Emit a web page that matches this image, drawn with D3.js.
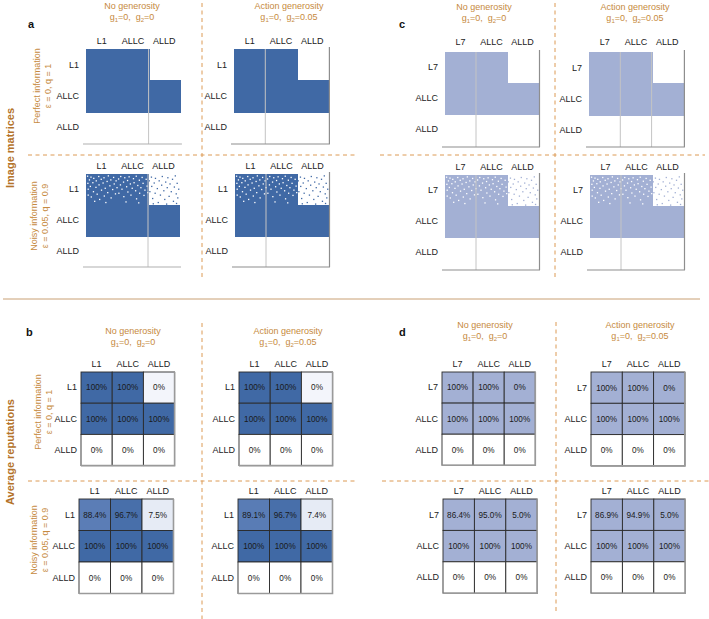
<!DOCTYPE html>
<html><head><meta charset="utf-8">
<script src="https://cdn.jsdelivr.net/npm/d3@7"></script>
<style>body{margin:0;background:#fff} svg{display:block} text{font-family:"Liberation Sans",Arial,sans-serif}</style>
</head><body><svg id="chart" width="709" height="619"></svg>
<script>
// ---------- data ----------
const strategiesL1 = ["L1", "ALLC", "ALLD"];
const strategiesL7 = ["L7", "ALLC", "ALLD"];
const imageBlocks = [[1, 1, 0], [1, 1, 1], [0, 0, 0]];
const repPerfect = [[1, 1, 0], [1, 1, 1], [0, 0, 0]];
const repNoisyL1None = [[0.884, 0.967, 0.075], [1, 1, 1], [0, 0, 0]];
const repNoisyL1Action = [[0.891, 0.967, 0.074], [1, 1, 1], [0, 0, 0]];
const repNoisyL7None = [[0.864, 0.950, 0.050], [1, 1, 1], [0, 0, 0]];
const repNoisyL7Action = [[0.869, 0.949, 0.050], [1, 1, 1], [0, 0, 0]];
const conditionTitles = ["No generosity", "Action generosity"];
const conditionG2 = ["0", "0.05"];
const infoTitles = ["Perfect information", "Noisy information"];
const infoParams = ["\u03b5 = 0, q = 1", "\u03b5 = 0.05, q = 0.9"];
const sectionTitles = ["Image matrices", "Average reputations"];
// speckles in the noisy image matrices (x in column units 0..3, y in row fraction 0..1)
const whiteSpecks = [[0.03,0.05],[0.04,0.28],[0.05,0.47],[0.05,0.66],[0.09,0.17],[0.12,0.38],[0.14,0.08],[0.15,0.72],[0.2,0.26],[0.22,0.55],[0.23,0.12],[0.3,0.41],[0.31,0.2],[0.34,0.63],[0.39,0.06],[0.4,0.33],[0.42,0.8],[0.47,0.15],[0.48,0.5],[0.53,0.27],[0.56,0.1],[0.57,0.69],[0.6,0.44],[0.66,0.22],[0.68,0.58],[0.7,0.04],[0.75,0.36],[0.78,0.17],[0.79,0.75],[0.84,0.48],[0.87,0.09],[0.89,0.3],[0.93,0.62],[0.95,0.2],[0.98,0.42],[1.03,0.14],[1.04,0.6],[1.09,0.33],[1.1,0.06],[1.14,0.47],[1.19,0.24],[1.2,0.71],[1.23,0.1],[1.29,0.39],[1.32,0.19],[1.33,0.56],[1.37,0.07],[1.41,0.3],[1.43,0.66],[1.47,0.44],[1.51,0.13],[1.53,0.26],[1.58,0.52],[1.6,0.05],[1.61,0.78],[1.65,0.35],[1.7,0.18],[1.71,0.6],[1.75,0.42],[1.79,0.09],[1.82,0.28],[1.85,0.67],[1.88,0.5],[1.92,0.15],[1.95,0.37],[1.97,0.58],[0.26,0.86],[0.62,0.9],[1.27,0.88],[1.68,0.91]];
const colorSpecks = [[2.02,0.2],[2.04,0.55],[2.09,0.08],[2.1,0.38],[2.13,0.77],[2.18,0.27],[2.21,0.6],[2.22,0.12],[2.28,0.45],[2.31,0.9],[2.34,0.2],[2.38,0.66],[2.42,0.34],[2.44,0.06],[2.49,0.52],[2.52,0.8],[2.55,0.24],[2.6,0.42],[2.62,0.1],[2.66,0.7],[2.69,0.3],[2.73,0.55],[2.77,0.15],[2.8,0.86],[2.83,0.4],[2.86,0.04],[2.89,0.62],[2.92,0.28],[2.94,0.75],[2.97,0.47],[2.15,0.94],[2.58,0.95],[2.9,0.93]];

// ---------- style ----------
const BLUE = "#4069a5", LAV = "#a3b0d4";
const ORANGE = "#c68a40", BROWN = "#b4732a", DASH = "#dc9a55";
const svg = d3.select("#chart");

// ---------- helpers ----------
function styleAxis(g) {
  g.select(".domain").remove();
  g.attr("font-family", null).attr("font-size", null);
  g.selectAll("text").attr("font-size", 9).attr("fill", "#222");
}

function imageMatrix(o) {
  const g = svg.append("g");
  const n = o.labels.length;
  const x = d3.scaleBand().domain(o.labels).range([o.x0, o.x0 + n * o.cell]);
  const y = d3.scaleBand().domain(o.labels).range([o.y0, o.y0 + n * o.cell]);
  const cells = [];
  imageBlocks.forEach((row, i) => row.forEach((v, j) => { if (v) cells.push({ r: o.labels[i], c: o.labels[j] }); }));
  g.selectAll("rect.blk").data(cells).join("rect").attr("class", "blk")
    .attr("x", d => x(d.c)).attr("y", d => y(d.r))
    .attr("width", x.bandwidth() + 1).attr("height", y.bandwidth() + 1)
    .attr("fill", o.color).attr("shape-rendering", "crispEdges");
  if (o.noisy) {
    const sx = d3.scaleLinear().domain([0, 3]).range([o.x0, o.x0 + 3 * o.cell]);
    const sy = d3.scaleLinear().domain([0, 1]).range([o.y0, o.y0 + o.cell]);
    g.selectAll("rect.ws").data(whiteSpecks).join("rect").attr("class", "ws")
      .attr("x", d => sx(d[0])).attr("y", d => sy(d[1])).attr("width", 1.3).attr("height", 1.3).attr("fill", "#fff");
    g.selectAll("rect.cs").data(colorSpecks).join("rect").attr("class", "cs")
      .attr("x", d => sx(d[0])).attr("y", d => sy(d[1])).attr("width", 1.3).attr("height", 1.3).attr("fill", o.color);
  }
  const x1 = o.x0 + n * o.cell;
  o.vlines.forEach(k => {
    g.append("line").attr("x1", o.x0 + k * o.cell).attr("x2", o.x0 + k * o.cell)
      .attr("y1", o.y0).attr("y2", o.bottom).attr("stroke", "#c4c4c4").attr("stroke-width", 1);
  });
  if (o.spine) g.append("line").attr("x1", x1 + 1.5).attr("x2", x1 + 1.5).attr("y1", o.y0 - 2).attr("y2", o.bottom)
    .attr("stroke", "#8e8e8e").attr("stroke-width", 1.2);
  g.append("line").attr("x1", o.x0 - 3).attr("x2", x1 + 2).attr("y1", o.bottom).attr("y2", o.bottom)
    .attr("stroke", o.spine ? "#8e8e8e" : "#b0b0b0").attr("stroke-width", 1.2);
  g.append("g").attr("transform", `translate(0,${o.y0})`)
    .call(d3.axisTop(x).tickSize(0).tickPadding(o.colPad)).call(styleAxis);
  g.append("g").attr("transform", `translate(${o.x0},0)`)
    .call(d3.axisLeft(y).tickSize(0).tickPadding(7)).call(styleAxis);
}

const fmt = v => (v === 0 || v === 1) ? d3.format(".0%")(v) : d3.format(".1%")(v);
const blueScale = d3.scaleLinear().domain([0, 0.85, 1]).range(["#f3f5fb", "#6383bb", BLUE]);

function heatmap(o) {
  const g = svg.append("g");
  const n = o.labels.length;
  const x = d3.scaleBand().domain(o.labels).range([o.x0, o.x0 + n * o.cell]);
  const y = d3.scaleBand().domain(o.labels).range([o.y0, o.y0 + n * o.cell]);
  const cells = [];
  o.values.forEach((row, i) => row.forEach((v, j) => cells.push({ i, j, v, r: o.labels[i], c: o.labels[j] })));
  g.selectAll("rect").data(cells).join("rect")
    .attr("x", d => x(d.c)).attr("y", d => y(d.r))
    .attr("width", x.bandwidth()).attr("height", y.bandwidth())
    .attr("fill", d => o.fill(d)).attr("stroke", "#2a2a2a").attr("stroke-width", 0.9);
  const x1 = o.x0 + n * o.cell, y1 = o.y0 + n * o.cell;
  g.append("path").attr("d", `M${x1},${o.y0}V${y1}H${o.x0}`).attr("fill", "none")
    .attr("stroke", "#9a9a9a").attr("stroke-width", 1.6);
  g.selectAll("text.val").data(cells).join("text").attr("class", "val")
    .attr("x", d => x(d.c) + x.bandwidth() / 2).attr("y", d => y(d.r) + y.bandwidth() / 2)
    .attr("dy", "0.35em").attr("text-anchor", "middle").attr("font-size", 8.2).attr("fill", "#1a1a1a")
    .text(d => fmt(d.v));
  g.append("g").attr("transform", `translate(0,${o.y0})`)
    .call(d3.axisTop(x).tickSize(0).tickPadding(5)).call(styleAxis);
  g.append("g").attr("transform", `translate(${o.x0},0)`)
    .call(d3.axisLeft(y).tickSize(0).tickPadding(4)).call(styleAxis);
}

function condTitle(cx, y, k) {
  svg.append("text").attr("x", cx).attr("y", y).attr("text-anchor", "middle")
    .attr("font-size", 9).attr("fill", ORANGE).text(conditionTitles[k]);
  const t = svg.append("text").attr("x", cx).attr("y", y + 11).attr("text-anchor", "middle")
    .attr("font-size", 9).attr("fill", ORANGE);
  t.append("tspan").text("g");
  t.append("tspan").attr("font-size", 6).attr("dy", 2).text("1");
  t.append("tspan").attr("dy", -2).text("=0,\u00a0\u00a0g");
  t.append("tspan").attr("font-size", 6).attr("dy", 2).text("2");
  t.append("tspan").attr("dy", -2).text("=" + conditionG2[k]);
}

function infoLabel(x, y, k) {
  svg.append("text").attr("transform", `translate(${x},${y}) rotate(-90)`).attr("text-anchor", "middle")
    .attr("font-size", 9).attr("fill", ORANGE).text(infoTitles[k]);
  svg.append("text").attr("transform", `translate(${x + 11},${y}) rotate(-90)`).attr("text-anchor", "middle")
    .attr("font-size", 9).attr("fill", ORANGE).text(infoParams[k]);
}

function letter(x, y, s) {
  svg.append("text").attr("x", x).attr("y", y).attr("font-size", 11).attr("font-weight", "bold").attr("fill", "#111").text(s);
}

function dashed(x1, y1, x2, y2) {
  svg.append("line").attr("x1", x1).attr("y1", y1).attr("x2", x2).attr("y2", y2)
    .attr("stroke", DASH).attr("stroke-width", 1).attr("stroke-dasharray", "4,3.5");
}

// ---------- separators ----------
dashed(28, 155, 355, 155); dashed(380, 155, 705, 155);
dashed(202, 3, 202, 279); dashed(555, 3, 555, 279);
svg.append("line").attr("x1", 3).attr("x2", 700).attr("y1", 299).attr("y2", 299).attr("stroke", "#c9a074").attr("stroke-width", 1);
dashed(28, 481, 357, 481); dashed(382, 481, 709, 481);
dashed(202, 323, 202, 619); dashed(556, 322, 556, 614);

// ---------- section labels ----------
svg.append("text").attr("transform", "translate(14,148) rotate(-90)").attr("text-anchor", "middle")
  .attr("font-size", 11).attr("font-weight", "bold").attr("fill", BROWN).text(sectionTitles[0]);
svg.append("text").attr("transform", "translate(14,452) rotate(-90)").attr("text-anchor", "middle")
  .attr("font-size", 11).attr("font-weight", "bold").attr("fill", BROWN).text(sectionTitles[1]);
infoLabel(40, 86, 0); infoLabel(37, 216, 1);
infoLabel(41, 412, 0); infoLabel(37, 540, 1);

// ---------- letters & titles ----------
letter(28, 28, "a"); letter(399, 28, "c"); letter(26, 336, "b"); letter(399, 336, "d");
condTitle(132, 9, 0); condTitle(289, 9, 1);
condTitle(484, 10, 0); condTitle(635, 10, 1);
condTitle(133, 334, 0); condTitle(288, 334, 1);
condTitle(485, 328, 0); condTitle(640, 328, 1);

// ---------- image matrices ----------
imageMatrix({ x0: 86, y0: 49, cell: 31.3, labels: strategiesL1, color: BLUE, noisy: false, vlines: [2], spine: false, bottom: 144, colPad: 5 });
imageMatrix({ x0: 234, y0: 49, cell: 31.3, labels: strategiesL1, color: BLUE, noisy: false, vlines: [1], spine: true, bottom: 144, colPad: 5 });
imageMatrix({ x0: 445, y0: 52, cell: 31, labels: strategiesL7, color: LAV, noisy: false, vlines: [1], spine: true, bottom: 147, colPad: 7 });
imageMatrix({ x0: 589, y0: 52, cell: 31.3, labels: strategiesL7, color: LAV, noisy: false, vlines: [1, 2], spine: true, bottom: 147, colPad: 7 });
imageMatrix({ x0: 86, y0: 174, cell: 31, labels: strategiesL1, color: BLUE, noisy: true, vlines: [2], spine: false, bottom: 267, colPad: 5 });
imageMatrix({ x0: 235, y0: 174, cell: 31, labels: strategiesL1, color: BLUE, noisy: true, vlines: [1], spine: true, bottom: 267, colPad: 5 });
imageMatrix({ x0: 445, y0: 175, cell: 31, labels: strategiesL7, color: LAV, noisy: true, vlines: [1], spine: true, bottom: 270, colPad: 5 });
imageMatrix({ x0: 590, y0: 175, cell: 31, labels: strategiesL7, color: LAV, noisy: true, vlines: [1], spine: true, bottom: 270, colPad: 5 });

// ---------- average reputation heatmaps ----------
const fillB = d => d.i === 2 ? "#ffffff" : blueScale(d.v);
const fillD = d => d.i === 2 ? "#ffffff" : LAV;
heatmap({ x0: 81, y0: 372, cell: 31.2, labels: strategiesL1, values: repPerfect, fill: fillB });
heatmap({ x0: 239, y0: 372, cell: 31.2, labels: strategiesL1, values: repPerfect, fill: fillB });
heatmap({ x0: 79, y0: 499, cell: 31.5, labels: strategiesL1, values: repNoisyL1None, fill: fillB });
heatmap({ x0: 238, y0: 499, cell: 31.5, labels: strategiesL1, values: repNoisyL1Action, fill: fillB });
heatmap({ x0: 442, y0: 372, cell: 31.1, labels: strategiesL7, values: repPerfect, fill: fillD });
heatmap({ x0: 591, y0: 372, cell: 31.3, labels: strategiesL7, values: repPerfect, fill: fillD });
heatmap({ x0: 443, y0: 499, cell: 31.4, labels: strategiesL7, values: repNoisyL7None, fill: fillD });
heatmap({ x0: 591, y0: 499, cell: 31.4, labels: strategiesL7, values: repNoisyL7Action, fill: fillD });
</script></body></html>
